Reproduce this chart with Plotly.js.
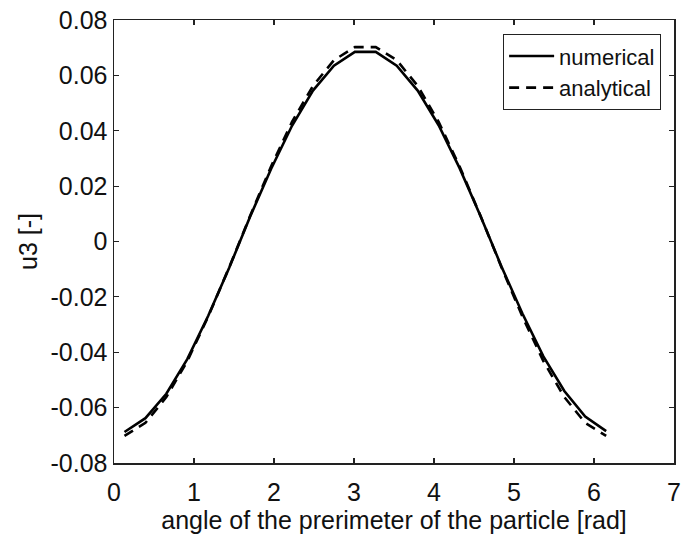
<!DOCTYPE html>
<html>
<head>
<meta charset="utf-8">
<script src="https://cdn.plot.ly/plotly-3.0.1.min.js"></script>
<style>html,body{margin:0;padding:0;background:#fff;}#chart{width:681px;height:540px;}</style>
</head>
<body>
<div id="chart"></div>
<script>
const angle = [0.131, 0.393, 0.654, 0.916, 1.178, 1.440, 1.702, 1.963, 2.225, 2.487, 2.749, 3.011,
               3.272, 3.534, 3.796, 4.058, 4.320, 4.581, 4.843, 5.105, 5.367, 5.629, 5.890, 6.152];
const numerical = [-0.0688, -0.0638, -0.0550, -0.0425, -0.0268, -0.0095, 0.0090, 0.0262, 0.0418, 0.0545, 0.0635, 0.0685,
                   0.0685, 0.0635, 0.0545, 0.0420, 0.0265, 0.0092, -0.0090, -0.0260, -0.0415, -0.0540, -0.0632, -0.0685];
const analytical = [-0.0702, -0.0655, -0.0562, -0.0432, -0.0271, -0.0093, 0.0093, 0.0271, 0.0432, 0.0562, 0.0655, 0.0702,
                    0.0702, 0.0655, 0.0562, 0.0432, 0.0271, 0.0093, -0.0093, -0.0271, -0.0432, -0.0562, -0.0655, -0.0702];
const xTicks = [0, 1, 2, 3, 4, 5, 6, 7];
const yTicks = [-0.08, -0.06, -0.04, -0.02, 0, 0.02, 0.04, 0.06, 0.08];
const yTickText = ['-0.08', '-0.06', '-0.04', '-0.02', '0', '0.02', '0.04', '0.06', '0.08'];

const FONT = 'Liberation Sans, Arial, sans-serif';
const traces = [
  {x: angle, y: numerical, name: 'numerical', mode: 'lines', line: {color: '#000', width: 2.6, dash: 'solid'}},
  {x: angle, y: analytical, name: 'analytical', mode: 'lines', line: {color: '#000', width: 2.6, dash: '10px,7px'}}
];
const axisCommon = {
  showline: true, linecolor: '#222', linewidth: 1.5, mirror: 'ticks',
  ticks: 'inside', ticklen: 5, tickcolor: '#222', tickwidth: 1.2,
  showgrid: false, zeroline: false,
  tickfont: {family: FONT, size: 25, color: '#111'}
};
const layout = {
  width: 681, height: 540,
  margin: {l: 114, r: 7, t: 20, b: 77},
  paper_bgcolor: '#fff', plot_bgcolor: '#fff',
  showlegend: true,
  legend: {x: 0.977, y: 0.968, xanchor: 'right', yanchor: 'top',
           bgcolor: '#fff', bordercolor: '#222', borderwidth: 1,
           font: {family: FONT, size: 22, color: '#111'},
           itemwidth: 45, tracegroupgap: 0},
  xaxis: Object.assign({}, axisCommon, {range: [0, 7], tickvals: xTicks, ticktext: xTicks.map(String),
    ticklabelstandoff: 6,
    title: {text: 'angle of the prerimeter of the particle [rad]', standoff: 4,
            font: {family: FONT, size: 25, color: '#111'}}}),
  yaxis: Object.assign({}, axisCommon, {range: [-0.08, 0.08], tickvals: yTicks, ticktext: yTickText,
    ticklabelstandoff: 0,
    title: {text: 'u3 [-]', standoff: 6,
            font: {family: FONT, size: 25, color: '#111'}}})
};
Plotly.newPlot('chart', traces, layout, {displayModeBar: false, staticPlot: true});
</script>
</body>
</html>
